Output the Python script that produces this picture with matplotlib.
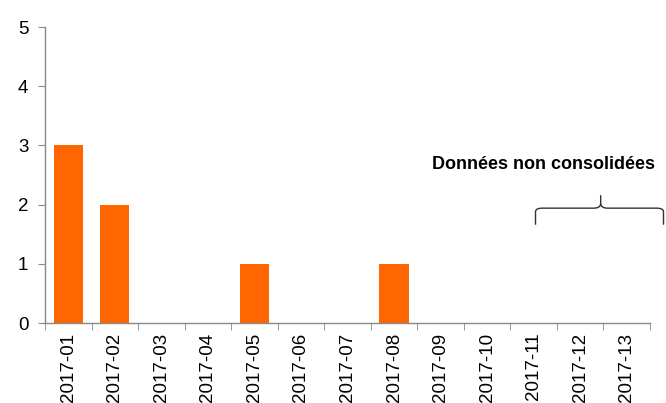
import matplotlib
matplotlib.use("Agg")
import matplotlib.pyplot as plt
from matplotlib.path import Path
from matplotlib.patches import PathPatch

plt.rcParams['font.family'] = ['Liberation Sans', 'DejaVu Sans']

categories = ["2017-01", "2017-02", "2017-03", "2017-04", "2017-05", "2017-06", "2017-07",
              "2017-08", "2017-09", "2017-10", "2017-11", "2017-12", "2017-13"]
values = [3, 2, 0, 0, 1, 0, 0, 1, 0, 0, 0, 0, 0]
y_ticks = [0, 1, 2, 3, 4, 5]
annotation = "Données non consolidées"

W, H = 666, 403
fig = plt.figure(figsize=(W / 100, H / 100), dpi=100)
ax = fig.add_axes([45 / W, (H - 323) / H, (650 - 45) / W, (323 - 27) / H])

x = list(range(len(categories)))
ax.bar(x, values, width=0.63, color="#FF6600", zorder=2)

ax.set_xlim(-0.5, len(categories) - 0.5)
ax.set_ylim(0, 5)
ax.set_yticks(y_ticks)
ax.set_yticklabels([str(v) for v in y_ticks], fontsize=13.5)

ax.set_xticks(x)
ax.set_xticklabels(categories, rotation=90, fontsize=13.5)
ax.tick_params(axis='x', length=0, pad=7)
ax.set_xticks([i - 0.5 for i in range(len(categories) + 1)], minor=True)
ax.tick_params(axis='x', which='minor', length=5, color="#888888", direction='out')
ax.tick_params(axis='y', length=5, color="#888888", direction='out', pad=7)

for s in ["top", "right"]:
    ax.spines[s].set_visible(False)
for s in ["left", "bottom"]:
    ax.spines[s].set_color("#888888")
    ax.spines[s].set_linewidth(1.0)

# curly bracket
xl, xr, xm = 10.04, 12.79, 11.44
yb, yh, yt = 1.66, 1.94, 2.16
verts = [
    (xl, yb), (xl, yh - 0.06), (xl, yh), (xl + 0.15, yh),
    (xm - 0.15, yh), (xm, yh), (xm, yh + 0.08), (xm, yt),
]
codes = [Path.MOVETO, Path.LINETO, Path.CURVE3, Path.CURVE3,
         Path.LINETO, Path.CURVE3, Path.CURVE3, Path.LINETO]
verts2 = [
    (xr, yb), (xr, yh - 0.06), (xr, yh), (xr - 0.15, yh),
    (xm + 0.15, yh), (xm, yh), (xm, yh + 0.08),
]
codes2 = [Path.MOVETO, Path.LINETO, Path.CURVE3, Path.CURVE3,
          Path.LINETO, Path.CURVE3, Path.CURVE3]
for v, c in ((verts, codes), (verts2, codes2)):
    ax.add_patch(PathPatch(Path(v, c), facecolor='none', edgecolor="#333333",
                           lw=1.0, clip_on=False))

ax.text(10.21, 2.68, annotation, ha='center', va='center', fontsize=13,
        fontweight='bold', color='black')

fig.savefig("out.png", dpi=100)
